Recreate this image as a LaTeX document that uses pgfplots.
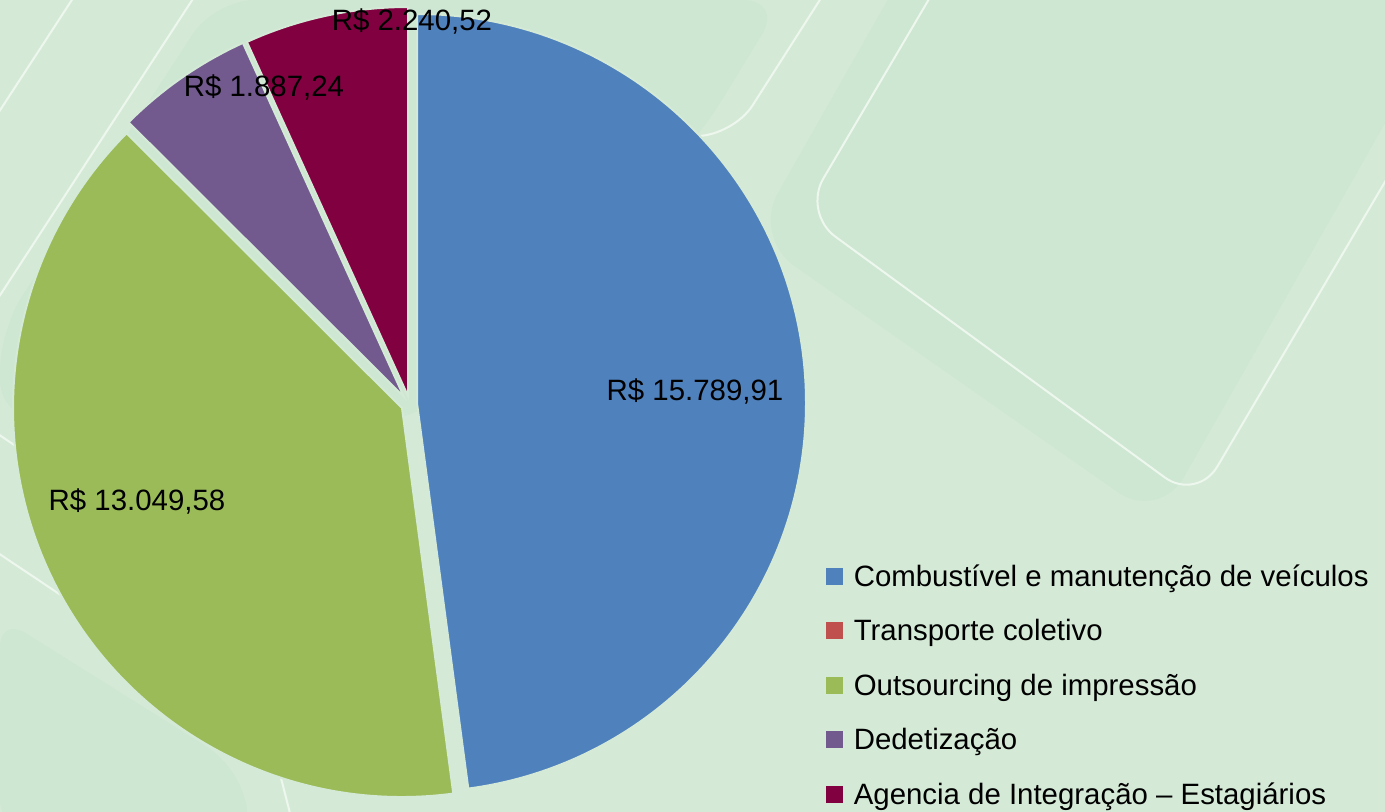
\documentclass[border=0pt]{standalone}
\usepackage{fontspec}
\setmainfont{Liberation Sans}
\usepackage{pgfplots}
\usepackage{pgfplotstable}
\pgfplotsset{compat=1.18}
\definecolor{bg}{HTML}{D4EAD7}
\definecolor{bgdark}{HTML}{CEE7D2}
\definecolor{bgline}{HTML}{EEF7EE}
\definecolor{cblue}{HTML}{4F81BD}
\definecolor{cred}{HTML}{C0504D}
\definecolor{cgreen}{HTML}{9BBB59}
\definecolor{cpurple}{HTML}{725A8F}
\definecolor{cwine}{HTML}{800040}

\pgfplotstableread[col sep=comma]{
item,value
Combustivel,15789.91
Transporte,0
Outsourcing,13049.58
Dedetizacao,1887.24
Agencia,2240.52
}\piedata

\begin{document}
\begin{tikzpicture}
\pgfplotstablegetelem{0}{value}\of\piedata \pgfmathsetmacro\vA{\pgfplotsretval/1000}
\pgfplotstablegetelem{1}{value}\of\piedata \pgfmathsetmacro\vB{\pgfplotsretval/1000}
\pgfplotstablegetelem{2}{value}\of\piedata \pgfmathsetmacro\vC{\pgfplotsretval/1000}
\pgfplotstablegetelem{3}{value}\of\piedata \pgfmathsetmacro\vD{\pgfplotsretval/1000}
\pgfplotstablegetelem{4}{value}\of\piedata \pgfmathsetmacro\vE{\pgfplotsretval/1000}
\pgfmathsetmacro\tot{\vA+\vB+\vC+\vD+\vE}
\pgfmathsetmacro\aA{90}
\pgfmathsetmacro\aB{\aA-360*\vA/\tot}
\pgfmathsetmacro\aC{\aB-360*\vB/\tot}
\pgfmathsetmacro\aD{\aC-360*\vC/\tot}
\pgfmathsetmacro\aE{\aD-360*\vD/\tot}
\pgfmathsetmacro\aF{\aE-360*\vE/\tot}
\def\R{194.5pt}
\begin{axis}[
  x=0.5pt, y=0.5pt,
  xmin=0, xmax=1385, ymin=0, ymax=811,
  hide axis, clip=true,
  legend cell align=left,
  legend style={at={(axis cs:826,245)}, anchor=north west,
    draw=none, fill=none, inner sep=0pt, outer sep=0pt,
    font=\fontsize{14.7}{17}\selectfont,
    row sep=14.25pt,
    nodes={inner sep=0pt, text height=10pt, text depth=3pt}},
]
% background
\fill[bg] (axis cs:-10,-10) rectangle (axis cs:1395,821);
\fill[bgdark, rounded corners=25pt] (axis cs:753,574) -- (axis cs:1159,290) -- (axis cs:1743,1318) -- (axis cs:1337,1602) -- cycle;
\fill[bgdark, rounded corners=20pt] (axis cs:215,811) -- (axis cs:783,811) -- (axis cs:700,675) -- (axis cs:420,391) -- (axis cs:0,391) -- (axis cs:0,481) -- cycle;
\fill[bgdark, rounded corners=15pt] (axis cs:0,194) -- (axis cs:233,48) -- (axis cs:255,-19) -- (axis cs:0,-19) -- cycle;
\draw[bgline, line width=1pt, rounded corners=20pt] (axis cs:803,598) -- (axis cs:1197,310) -- (axis cs:1677,1125) -- (axis cs:1283,1413) -- cycle;
\draw[bgline, line width=1pt] (axis cs:-7,690) -- (axis cs:79,822);
\draw[bgline, line width=1pt] (axis cs:200,823) -- (axis cs:-7,505);
\draw[bgline, line width=1pt] (axis cs:-5,379) -- (axis cs:60,335);
\draw[bgline, line width=1pt, rounded corners=15pt] (axis cs:-5,260) -- (axis cs:270,76) -- (axis cs:292,-10);
\draw[bgline, line width=1pt, rounded corners=18pt] (axis cs:823,816) -- (axis cs:733,675) -- (axis cs:600,675);
% slices
\filldraw[fill=cblue, draw=bg, line width=1pt] (axis cs:417,408) -- ++(\aA:\R) arc[start angle=\aA, end angle=\aB, radius=\R] -- cycle;
\filldraw[fill=cgreen, draw=bg, line width=1pt] (axis cs:402,403) -- ++(\aC:\R) arc[start angle=\aC, end angle=\aD, radius=\R] -- cycle;
\filldraw[fill=cpurple, draw=bg, line width=1pt] (axis cs:404,414) -- ++(\aD:\R) arc[start angle=\aD, end angle=\aE, radius=\R] -- cycle;
\filldraw[fill=cwine, draw=bg, line width=1pt] (axis cs:408,415) -- ++(\aE:\R) arc[start angle=\aE, end angle=\aF, radius=\R] -- cycle;
% data labels
\begin{scope}[every node/.style={font=\fontsize{14.7}{17}\selectfont, text=black, inner sep=0pt}]
\node at (axis cs:695,420) {R\$ 15.789,91};
\node at (axis cs:137,310) {R\$ 13.049,58};
\node at (axis cs:264,724) {R\$ 1.887,24};
\node at (axis cs:412,789) {R\$ 2.240,52};
\end{scope}
% legend
\addlegendimage{legend image code/.code={\fill[cblue] (0pt,-2.5pt) rectangle (8pt,5.5pt); \path (13.5pt,0pt);}}
\addlegendentry{Combustível e manutenção de veículos}
\addlegendimage{legend image code/.code={\fill[cred] (0pt,-2.5pt) rectangle (8pt,5.5pt); \path (13.5pt,0pt);}}
\addlegendentry{Transporte coletivo}
\addlegendimage{legend image code/.code={\fill[cgreen] (0pt,-2.5pt) rectangle (8pt,5.5pt); \path (13.5pt,0pt);}}
\addlegendentry{Outsourcing de impressão}
\addlegendimage{legend image code/.code={\fill[cpurple] (0pt,-2.5pt) rectangle (8pt,5.5pt); \path (13.5pt,0pt);}}
\addlegendentry{Dedetização}
\addlegendimage{legend image code/.code={\fill[cwine] (0pt,-2.5pt) rectangle (8pt,5.5pt); \path (13.5pt,0pt);}}
\addlegendentry{Agencia de Integração – Estagiários}
\end{axis}
\end{tikzpicture}
\end{document}
